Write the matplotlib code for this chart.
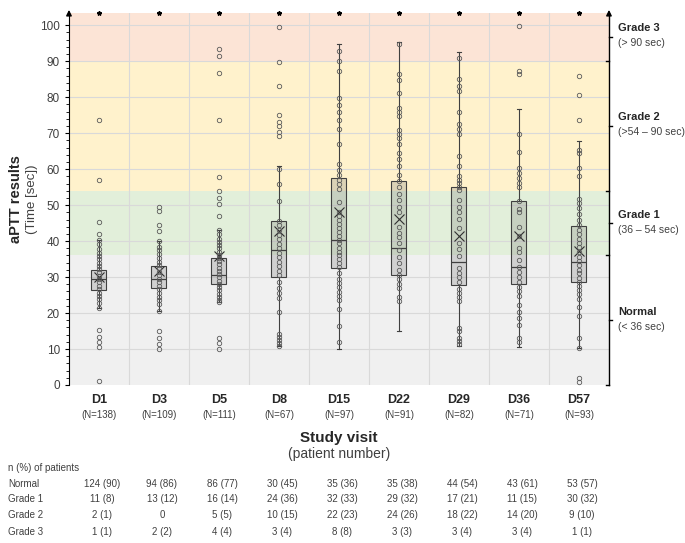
import numpy as np
import matplotlib
matplotlib.use('Agg')
import matplotlib.pyplot as plt
import matplotlib.transforms as mtrans

plt.rcParams['font.family'] = ['Liberation Sans', 'DejaVu Sans']

## Data ##
visits = ['D1', 'D3', 'D5', 'D8', 'D15', 'D22', 'D29', 'D36', 'D57']
n_pat = [138, 109, 111, 67, 97, 91, 82, 71, 93]

q1 = [26.3, 26.9, 28.0, 30.1, 32.4, 30.7, 27.7, 28.2, 28.5]
med = [29.4, 29.6, 30.7, 37.5, 40.2, 38.2, 34.1, 32.7, 34.1]
q3 = [32.1, 33.0, 35.4, 45.7, 57.6, 56.8, 55.1, 51.2, 44.1]
whislo = [21.5, 20.6, 23.1, 10.8, 10.0, 15.0, 10.9, 10.6, 10.4]
whishi = [40.3, 40.0, 43.1, 60.9, 94.9, 95.3, 92.5, 76.6, 67.7]
mean = [30.1, 31.8, 35.8, 42.9, 48.1, 46.1, 41.4, 41.4, 37.3]

pts_d1 = [73.8, 57.1, 45.3, 41.9, 40.3, 39.1, 37.7, 36.8, 35.9, 34.9, 34.0, 33.1,
          32.2, 31.3, 30.3, 29.4, 28.5, 27.6, 26.6, 25.7, 24.8, 23.9, 22.9, 21.5,
          15.3, 13.4, 11.9, 10.5, 1.2]
pts_d3 = [49.4, 48.3, 44.4, 42.9, 40.0, 38.5, 37.4, 36.3, 35.2, 34.3, 33.4, 32.4,
          31.5, 30.6, 29.6, 28.6, 27.6, 26.6, 25.7, 24.6, 23.5, 22.4, 20.6,
          15.0, 13.2, 11.3, 9.9]
pts_d5 = [93.3, 91.5, 86.7, 73.7, 57.9, 53.9, 52.0, 50.3, 47.0, 43.1, 41.9, 40.6,
          39.8, 38.9, 38.0, 37.1, 36.2, 35.3, 34.4, 33.5, 32.6, 31.7, 30.8, 29.9,
          29.0, 28.1, 27.2, 26.3, 25.4, 24.5, 23.5, 23.1, 13.1, 11.6, 10.0]
pts_d8 = [99.4, 89.8, 83.1, 75.0, 73.1, 71.9, 70.4, 69.3, 60.0, 55.9, 51.1, 45.7,
          44.5, 43.0, 41.8, 40.5, 39.2, 38.0, 36.8, 35.5, 34.3, 33.0, 31.8, 30.6,
          28.7, 26.9, 25.5, 24.3, 20.4, 14.2, 13.4, 12.5, 11.8, 10.8]
pts_d15 = [92.9, 90.1, 87.2, 79.8, 77.8, 75.9, 73.7, 71.1, 66.9, 61.5, 59.9, 58.4,
           56.9, 55.8, 54.4, 50.9, 48.1, 46.9, 45.8, 44.7, 43.6, 42.5, 41.4, 40.3,
           39.4, 38.2, 37.1, 36.0, 34.9, 33.8, 32.7, 31.0, 29.6, 28.4, 27.3, 25.9,
           24.7, 23.6, 21.0, 16.5, 12.0]
pts_d22 = [94.9, 86.4, 84.7, 81.3, 77.1, 75.9, 74.9, 71.0, 69.7, 68.6, 67.1, 64.4,
           62.9, 61.0, 58.4, 56.7, 55.1, 53.2, 51.4, 49.5, 48.1, 44.0, 42.3, 41.2,
           39.4, 37.5, 35.6, 34.0, 32.1, 30.6, 29.4, 28.2, 27.0, 24.5, 23.3]
pts_d29 = [90.9, 85.0, 83.2, 81.6, 75.9, 72.6, 71.2, 69.7, 63.6, 61.0, 58.1, 57.1,
           56.2, 55.1, 54.2, 51.4, 49.5, 48.1, 46.2, 43.6, 39.4, 37.7, 35.8, 32.4,
           31.2, 30.1, 28.7, 26.6, 25.5, 24.4, 23.3, 15.9, 15.1, 13.0, 12.2, 11.3]
pts_d36 = [99.8, 87.3, 86.4, 69.8, 64.9, 60.4, 59.0, 57.6, 56.2, 55.1, 51.2, 49.0,
           48.0, 44.0, 41.4, 38.0, 36.9, 34.7, 32.9, 31.5, 30.1, 28.7, 27.3, 26.1,
           24.7, 22.2, 20.4, 18.7, 16.7, 13.0, 12.0]
pts_d57 = [86.0, 80.6, 73.7, 65.3, 64.5, 60.2, 58.2, 51.8, 50.6, 49.3, 47.4, 45.8,
           44.4, 43.1, 41.9, 40.7, 39.6, 38.4, 37.0, 35.6, 34.5, 33.3, 32.1, 31.0,
           29.8, 28.7, 27.5, 26.4, 25.3, 23.8, 21.8, 19.2, 13.0, 10.4, 1.9, 0.7]
points = [pts_d1, pts_d3, pts_d5, pts_d8, pts_d15, pts_d22, pts_d29, pts_d36, pts_d57]

row_names = ['Normal', 'Grade 1', 'Grade 2', 'Grade 3']
row_normal = ['124 (90)', '94 (86)', '86 (77)', '30 (45)', '35 (36)', '35 (38)', '44 (54)', '43 (61)', '53 (57)']
row_g1 = ['11 (8)', '13 (12)', '16 (14)', '24 (36)', '32 (33)', '29 (32)', '17 (21)', '11 (15)', '30 (32)']
row_g2 = ['2 (1)', '0', '5 (5)', '10 (15)', '22 (23)', '24 (26)', '18 (22)', '14 (20)', '9 (10)']
row_g3 = ['1 (1)', '2 (2)', '4 (4)', '3 (4)', '8 (8)', '3 (3)', '3 (4)', '3 (4)', '1 (1)']
table_rows = [row_normal, row_g1, row_g2, row_g3]

grade_names = ['Grade 3', 'Grade 2', 'Grade 1', 'Normal']
grade_ranges = ['(> 90 sec)', '(>54 \u2013 90 sec)', '(36 \u2013 54 sec)', '(< 36 sec)']
grade_lo = [90, 54, 36, 0]
grade_hi = [103.5, 90, 54, 36]
grade_col = ['#FCE4D6', '#FFF2CC', '#E2EFDA', '#F0F0F0']

## Figure ##
fig = plt.figure(figsize=(6.85, 5.43), dpi=100)
ax = fig.add_axes([0.1007, 0.291, 0.7883, 0.6856])
ymax = 103.5
ax.set_xlim(0.5, 9.5)
ax.set_ylim(0, ymax)

for lo, hi, c in zip(grade_lo, grade_hi, grade_col):
  ax.axhspan(lo, hi, color=c, zorder=0, lw=0)
for y in range(10, 101, 10):
  ax.axhline(y, color='#D9D9D9', lw=0.8, zorder=1)
for x in np.arange(1.5, 9.5, 1):
  ax.axvline(x, color='#D9D9D9', lw=0.8, zorder=1)

pos = np.arange(1, len(visits) + 1)
stats = []
for i in range(len(visits)):
  stats.append(dict(med=med[i], q1=q1[i], q3=q3[i], whislo=whislo[i],
                    whishi=whishi[i], mean=mean[i], fliers=[], label=visits[i]))
ax.bxp(stats, positions=pos, widths=0.25, showmeans=True, showfliers=False,
       patch_artist=True, capwidths=0.08,
       boxprops=dict(facecolor=(0.5, 0.5, 0.5, 0.28), edgecolor='#404040', lw=0.8),
       medianprops=dict(color='#404040', lw=0.9),
       whiskerprops=dict(color='#404040', lw=0.8),
       capprops=dict(color='#404040', lw=0.8),
       meanprops=dict(marker='x', markeredgecolor='#303030', markersize=6.5, markeredgewidth=0.8),
       zorder=3)
for p, vals in zip(pos, points):
  ax.plot(np.full(len(vals), p), vals, 'o', ms=3.2, mfc='none', mec='#5a5a5a',
          mew=0.6, zorder=4)
ax.plot(pos, np.full(len(pos), ymax), '*', color='k', ms=3.2, clip_on=False, zorder=5)

## Axes styling ##
for s in ['top', 'right', 'bottom']:
  ax.spines[s].set_visible(False)
ax.spines['left'].set_color('k')
ax.set_yticks(range(0, 101, 10))
ax.set_yticks(range(0, 101, 2), minor=True)
ax.tick_params(axis='y', which='major', length=3, labelsize=8.5, colors='k', labelcolor='#404040')
ax.tick_params(axis='y', which='minor', length=2, colors='k')
ax.set_xticks([])
ax.annotate('', xy=(0, 1.015), xytext=(0, 0.99), xycoords='axes fraction',
            arrowprops=dict(arrowstyle='-|>', color='k', lw=1, mutation_scale=8))

## Right braces ##
tb = mtrans.blended_transform_factory(ax.transAxes, ax.transData)
ax.plot([1.0, 1.0], [0, ymax], color='k', lw=1, transform=tb, clip_on=False)
ax.annotate('', xy=(1.0, 1.015), xytext=(1.0, 0.99), xycoords='axes fraction',
            arrowprops=dict(arrowstyle='-|>', color='k', lw=1, mutation_scale=8))
for lo in grade_lo:
  ax.plot([0.994, 1.0], [lo, lo], color='k', lw=1, transform=tb, clip_on=False)
for name, rng, lo, hi in zip(grade_names, grade_ranges, grade_lo, grade_hi):
  mid = (lo + hi) / 2
  ax.plot([1.0, 1.006], [mid, mid], color='k', lw=1, transform=tb, clip_on=False)
  ax.text(1.017, mid + 1.0, name, transform=tb, fontsize=8, fontweight='bold',
          color='#262626', va='bottom', ha='left')
  ax.text(1.017, mid - 0.4, rng, transform=tb, fontsize=7.5, color='#404040',
          va='top', ha='left')

## Axis labels ##
ax.text(-0.098, 0.5, 'aPTT results', transform=ax.transAxes, rotation=90,
        fontsize=10.5, fontweight='bold', color='#262626', ha='center', va='center')
ax.text(-0.068, 0.5, '(Time [sec])', transform=ax.transAxes, rotation=90,
        fontsize=9.5, color='#404040', ha='center', va='center')

tx = mtrans.blended_transform_factory(ax.transData, ax.transAxes)
for p, v, n in zip(pos, visits, n_pat):
  ax.text(p, -0.040, v, transform=tx, fontsize=9, fontweight='bold',
          color='#262626', ha='center', va='center')
  ax.text(p, -0.081, '(N=%d)' % n, transform=tx, fontsize=7, color='#404040',
          ha='center', va='center')
ax.text(0.5, -0.142, 'Study visit', transform=ax.transAxes, fontsize=11,
        fontweight='bold', color='#262626', ha='center', va='center')
ax.text(0.5, -0.185, '(patient number)', transform=ax.transAxes, fontsize=10,
        color='#404040', ha='center', va='center')

## Table ##
tf = mtrans.blended_transform_factory(ax.transData, fig.transFigure)
fig.text(0.012, 1 - 468 / 543, 'n (%) of patients', fontsize=7, color='#404040', va='center')
row_y = [484, 499, 515, 532]
for name, vals, py in zip(row_names, table_rows, row_y):
  fig.text(0.012, 1 - py / 543, name, fontsize=7, color='#404040', va='center')
  for p, s in zip(pos, vals):
    ax.text(p + 0.05, 1 - py / 543, s, transform=tf, fontsize=7, color='#404040',
            ha='center', va='center')

fig.savefig('out.png', dpi=100)
